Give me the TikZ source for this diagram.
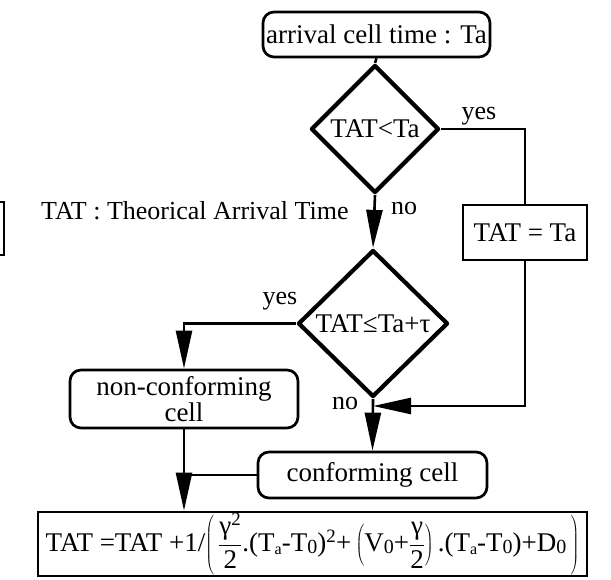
\documentclass[tikz,border=0pt]{standalone}
\usepackage{fontspec}
\setmainfont{Liberation Serif}
\usetikzlibrary{shapes.geometric,arrows.meta}
\newcommand{\zsub}{\raisebox{-2pt}{\fontsize{20}{20}\selectfont 0}}
\newcommand{\asub}{\raisebox{-3pt}{\fontsize{16}{16}\selectfont a}}
\begin{document}
\begin{tikzpicture}[x=1pt,y=-1pt,
  every node/.style={font=\fontsize{27}{28}\selectfont, inner sep=0pt},
  rbox/.style={draw, line width=2.7pt, rounded corners=11pt},
  sbox/.style={draw, line width=2.7pt},
  dia/.style={draw, shape=diamond, line width=4.2pt, line join=round},
  conn/.style={line width=2.6pt},
  arr/.style={conn, -{Triangle[length=38pt,width=16pt]}},
  lbl/.style={font=\fontsize{26}{27}\selectfont}]
\useasboundingbox (0,0) rectangle (611,579);

\node[rbox, minimum width=227, minimum height=45] (start) at (376.5,34.5) {arrival cell time : Ta};
\node[dia, minimum width=128, minimum height=128] (d1) at (375,129) {TAT<Ta};
\node[sbox, minimum width=124, minimum height=55] (set) at (525,232.5) {TAT = Ta};
\node[dia, minimum width=150, minimum height=147] (d2) at (373,323.5) {TAT≤Ta+τ};
\node[rbox, minimum width=228, minimum height=58, align=center, font=\fontsize{27}{26}\selectfont] (nc) at (184,399) {non-conforming\\cell};
\node[rbox, minimum width=229, minimum height=46] (conf) at (372.5,475) {conforming cell};
\node[sbox, minimum width=549, minimum height=64, font=\fontsize{27}{28}\selectfont] (tat) at (312.5,544)
  {TAT =TAT +1/$\left(\,\displaystyle\frac{\mbox{γ\textsuperscript{2}}}{\mbox{2}}\mbox{.(T\asub-T\zsub)\textsuperscript{2}+}\left(\mbox{V\zsub+}\frac{\mbox{γ}}{\mbox{2}}\right)\mbox{.(T\asub-T\zsub)+D\zsub}\,\right)$};

\node[lbl, anchor=west] (legend) at (41,211) {TAT : Theorical Arrival Time};
\node[lbl] (yes1) at (479,116) {yes};
\node[lbl] (no1) at (404,208) {no};
\node[lbl] (yes2) at (280,301) {yes};
\node[lbl] (no2) at (345,403) {no};

\coordinate (merge) at (373,406);

\draw[conn] (start.south) -- (d1.north);
\draw[conn] (d1.east) -| (set.north);
\draw[arr] (d1.south) -- (d2.north);
\draw[arr] (set.south) |- (merge);
\draw[arr] (d2.west) -| (nc.north);
\draw[arr] (d2.south) -- (conf.north);
\draw[arr] (nc.south) -- (nc.south |- tat.north);
\draw[conn] (conf.west) -- (conf.west -| nc.south);

\draw[conn] (0,202) -- (4,202) -- (4,255) -- (0,255);
\end{tikzpicture}
\end{document}
